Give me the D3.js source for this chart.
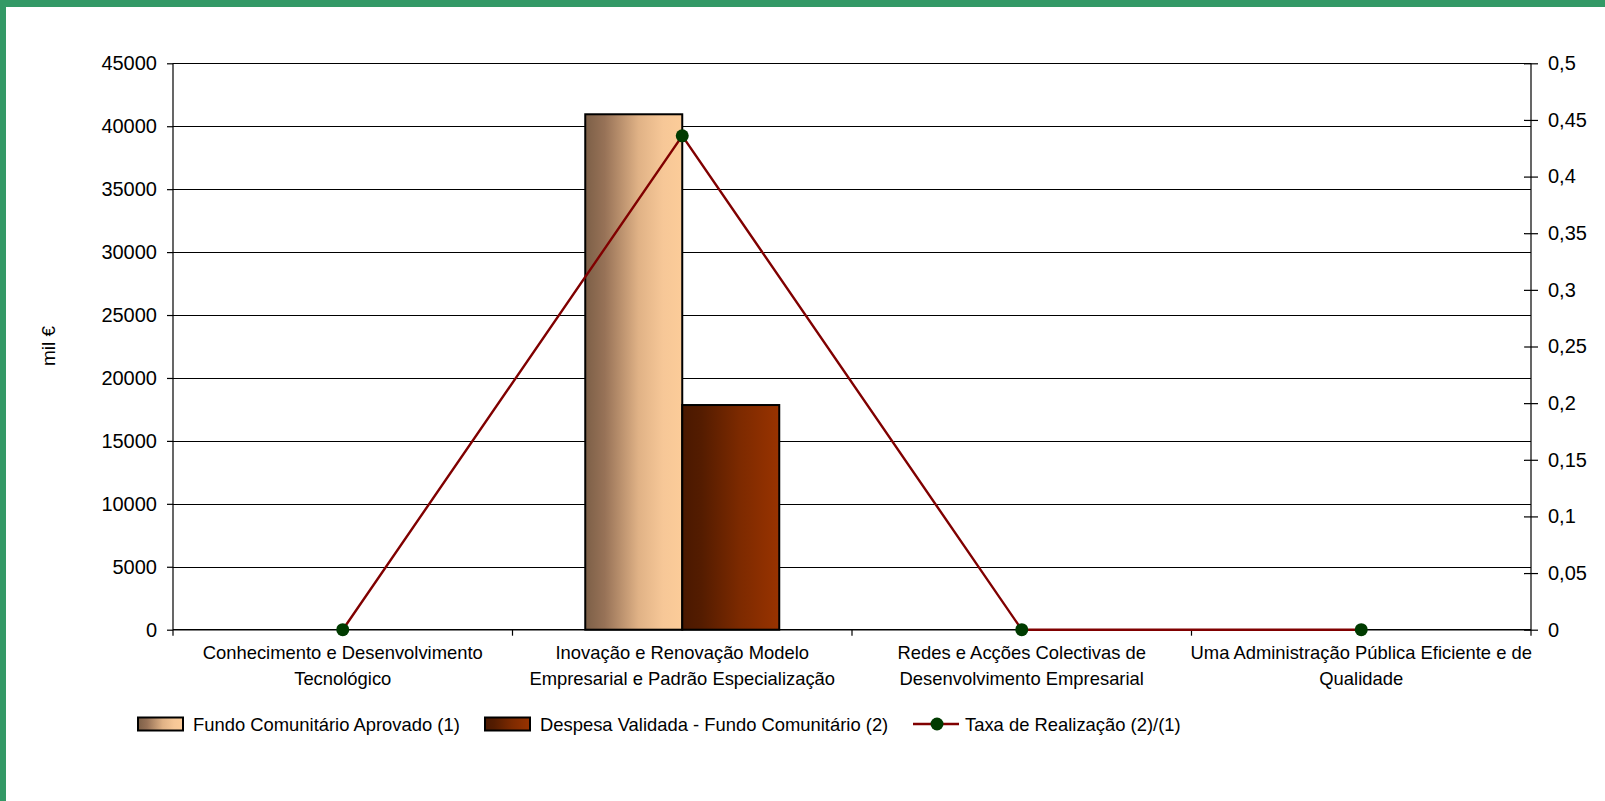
<!DOCTYPE html>
<html>
<head>
<meta charset="utf-8">
<script src="https://cdn.jsdelivr.net/npm/d3@7"></script>
<style>
  html, body { margin: 0; padding: 0; background: #fff; }
  svg text { font-family: "Liberation Sans", Arial, sans-serif; fill: #000; }
</style>
</head>
<body>
<div id="chart"></div>
<script>
// Chart data
const categories = [
    ["Conhecimento e Desenvolvimento", "Tecnológico"],
    ["Inovação e Renovação Modelo", "Empresarial e Padrão Especialização"],
    ["Redes e Acções Colectivas de", "Desenvolvimento Empresarial"],
    ["Uma Administração Pública Eficiente e de", "Qualidade"]
];
const fundoAprovado = [0, 40950, 0, 0];
const despesaValidada = [0, 17850, 0, 0];
const taxaRealizacao = [0, 0.436, 0, 0];

const leftTicks = [0, 5000, 10000, 15000, 20000, 25000, 30000, 35000, 40000, 45000];
const rightTicks = [0, 0.05, 0.1, 0.15, 0.2, 0.25, 0.3, 0.35, 0.4, 0.45, 0.5];
const rightTickLabels = ["0", "0,05", "0,1", "0,15", "0,2", "0,25", "0,3", "0,35", "0,4", "0,45", "0,5"];

const seriesNames = [
    "Fundo Comunitário Aprovado (1)",
    "Despesa Validada - Fundo Comunitário (2)",
    "Taxa de Realização (2)/(1)"
];

// Page size and plot area
const W = 1605, H = 801;
const plot = {left: 173, right: 1531, top: 63.3, bottom: 629.7};
const tickFont = "20px";
const labelFont = "18.4px";

const svg = d3.select("#chart").append("svg")
    .attr("width", W)
    .attr("height", H);

// Gradients for the bars
const defs = svg.append("defs");
function gradient(id, stops) {
    const g = defs.append("linearGradient").attr("id", id)
        .attr("x1", "0%").attr("x2", "100%").attr("y1", "0%").attr("y2", "0%");
    stops.forEach(s => g.append("stop").attr("offset", s[0]).attr("stop-color", s[1]));
}
gradient("gradFundo", [["0%", "#7c5f47"], ["20%", "#977257"], ["55%", "#e0b286"], ["80%", "#f6c797"], ["100%", "#fccc99"]]);
gradient("gradDespesa", [["0%", "#4a1800"], ["20%", "#541c00"], ["60%", "#7d2a00"], ["100%", "#993300"]]);

// Background and green frame
svg.append("rect").attr("width", W).attr("height", H).attr("fill", "#fff");
svg.append("rect").attr("x", 0).attr("y", 0).attr("width", W).attr("height", 7).attr("fill", "#339966");
svg.append("rect").attr("x", 0).attr("y", 0).attr("width", 6).attr("height", H).attr("fill", "#339966");

// Scales
const x = d3.scaleBand()
    .domain(d3.range(categories.length))
    .range([plot.left, plot.right])
    .padding(0);

const step = x.bandwidth();
const barW = step / 3.5; // Excel gap width 150%
const x1 = d3.scaleBand()
    .domain([0, 1])
    .range([(step - 2 * barW) / 2, (step + 2 * barW) / 2]);

const y = d3.scaleLinear().domain([0, 45000]).range([plot.bottom, plot.top]);
const y2 = d3.scaleLinear().domain([0, 0.5]).range([plot.bottom, plot.top]);

// Gridlines
svg.append("g")
    .selectAll("line")
    .data(leftTicks.filter(d => d > 0))
    .enter().append("line")
    .attr("x1", plot.left)
    .attr("x2", plot.right)
    .attr("y1", d => Math.round(y(d)) + 0.5)
    .attr("y2", d => Math.round(y(d)) + 0.5)
    .attr("stroke", "#000")
    .attr("stroke-width", 1.2);

// Bars
const barData = [];
categories.forEach((c, i) => {
    barData.push({i: i, s: 0, v: fundoAprovado[i]});
    barData.push({i: i, s: 1, v: despesaValidada[i]});
});
svg.append("g")
    .selectAll("rect")
    .data(barData.filter(d => d.v > 0))
    .enter().append("rect")
    .attr("x", d => x(d.i) + x1(d.s))
    .attr("width", x1.bandwidth())
    .attr("y", d => y(d.v))
    .attr("height", d => y(0) - y(d.v))
    .attr("fill", d => d.s === 0 ? "url(#gradFundo)" : "url(#gradDespesa)")
    .attr("stroke", "#000")
    .attr("stroke-width", 2);

// Left axis
const leftAxis = svg.append("g")
    .attr("transform", `translate(${plot.left},0)`)
    .call(d3.axisLeft(y).tickValues(leftTicks).tickSize(6).tickSizeOuter(0).tickPadding(10).tickFormat(d3.format("d")));
leftAxis.select(".domain").remove();
leftAxis.append("line")
    .attr("x1", 0).attr("x2", 0)
    .attr("y1", plot.top).attr("y2", plot.bottom + 6)
    .attr("stroke", "#000").attr("stroke-width", 1.2);
leftAxis.selectAll("text").style("font-size", tickFont).attr("fill", "#000");
leftAxis.selectAll(".tick line").attr("stroke-width", 1.2);

// Right axis (crossing ticks)
const rightAxis = svg.append("g")
    .attr("transform", `translate(${plot.right},0)`)
    .call(d3.axisRight(y2).tickValues(rightTicks).tickSize(7).tickSizeOuter(0).tickPadding(10)
        .tickFormat((d, i) => rightTickLabels[i]));
rightAxis.select(".domain").remove();
rightAxis.append("line")
    .attr("x1", 0).attr("x2", 0)
    .attr("y1", plot.top).attr("y2", plot.bottom + 6)
    .attr("stroke", "#000").attr("stroke-width", 1.2);
rightAxis.selectAll(".tick line").attr("x1", -7).attr("stroke-width", 1.2);
rightAxis.selectAll("text").style("font-size", tickFont).attr("fill", "#000");

// Bottom axis line and category boundary ticks
svg.append("line")
    .attr("x1", plot.left).attr("x2", plot.right)
    .attr("y1", plot.bottom).attr("y2", plot.bottom)
    .attr("stroke", "#000").attr("stroke-width", 1.5);
svg.append("g")
    .selectAll("line")
    .data(d3.range(1, categories.length))
    .enter().append("line")
    .attr("x1", d => x(d)).attr("x2", d => x(d))
    .attr("y1", plot.bottom).attr("y2", plot.bottom + 6)
    .attr("stroke", "#000").attr("stroke-width", 1.2);

// Category labels
const catLabels = svg.append("g")
    .selectAll("text")
    .data(categories)
    .enter().append("text")
    .attr("text-anchor", "middle")
    .style("font-size", labelFont);
catLabels.selectAll("tspan")
    .data((d, i) => d.map(t => ({t: t, i: i})))
    .enter().append("tspan")
    .attr("x", d => x(d.i) + step / 2)
    .attr("y", (d, j) => 659 + j * 26)
    .text(d => d.t);

// Line series on secondary axis
const line = d3.line()
    .x((d, i) => x(i) + step / 2)
    .y(d => y2(d));
svg.append("path")
    .datum(taxaRealizacao)
    .attr("d", line)
    .attr("fill", "none")
    .attr("stroke", "#800000")
    .attr("stroke-width", 2.4);
svg.append("g")
    .selectAll("circle")
    .data(taxaRealizacao)
    .enter().append("circle")
    .attr("cx", (d, i) => x(i) + step / 2)
    .attr("cy", d => y2(d))
    .attr("r", 6.5)
    .attr("fill", "#003b00");

// Y axis title
svg.append("text")
    .attr("transform", "translate(55,346) rotate(-90)")
    .attr("text-anchor", "middle")
    .style("font-size", "19px")
    .text("mil €");

// Legend
const legendY = 724;
const legendItems = [
    {x: 137, type: "bar", fill: "url(#gradFundo)", label: seriesNames[0]},
    {x: 484, type: "bar", fill: "url(#gradDespesa)", label: seriesNames[1]},
    {x: 913, type: "line", label: seriesNames[2]}
];
const legend = svg.append("g").selectAll("g")
    .data(legendItems)
    .enter().append("g")
    .attr("transform", d => `translate(${d.x},${legendY})`);

legend.filter(d => d.type === "bar").append("rect")
    .attr("x", 1).attr("y", -6.5)
    .attr("width", 45).attr("height", 13)
    .attr("fill", d => d.fill)
    .attr("stroke", "#000")
    .attr("stroke-width", 2);
legend.filter(d => d.type === "bar").append("text")
    .attr("x", 56).attr("y", 6.5)
    .style("font-size", labelFont)
    .text(d => d.label);

legend.filter(d => d.type === "line").append("line")
    .attr("x1", 0).attr("x2", 46)
    .attr("y1", 0).attr("y2", 0)
    .attr("stroke", "#800000").attr("stroke-width", 2.4);
legend.filter(d => d.type === "line").append("circle")
    .attr("cx", 24).attr("cy", 0).attr("r", 6.5)
    .attr("fill", "#003b00");
legend.filter(d => d.type === "line").append("text")
    .attr("x", 52).attr("y", 6.5)
    .style("font-size", labelFont)
    .text(d => d.label);
</script>
</body>
</html>
